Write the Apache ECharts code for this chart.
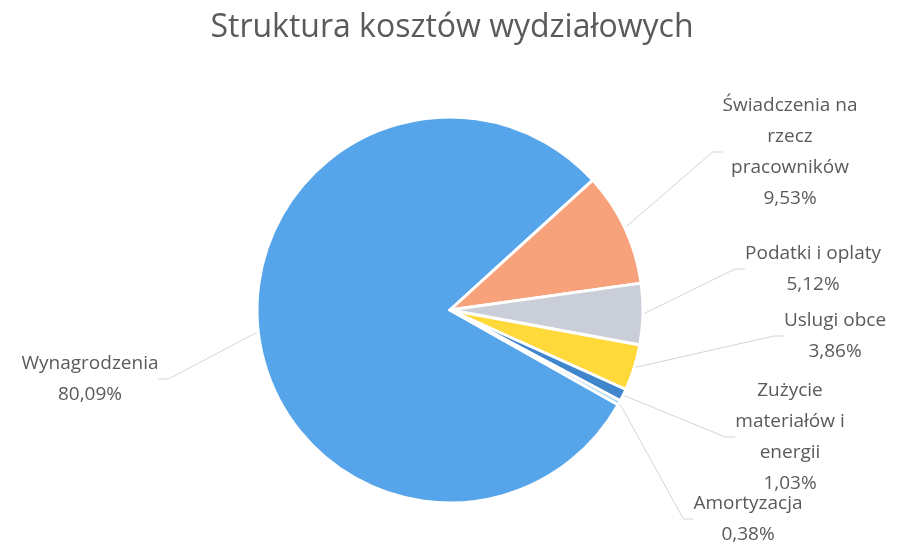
<!DOCTYPE html>
<html>
<head>
<meta charset="utf-8">
<script src="https://cdn.jsdelivr.net/npm/echarts@6/dist/echarts.min.js"></script>
<style>
  html, body { margin: 0; padding: 0; background: #fff; }
  #chart { width: 904px; height: 544px; }
</style>
</head>
<body>
<div id="chart"></div>
<script>
// Cost categories and their shares (%)
const categories = [
  'Wynagrodzenia',
  'Świadczenia na\nrzecz\npracowników',
  'Podatki i oplaty',
  'Uslugi obce',
  'Zużycie\nmateriałów i\nenergii',
  'Amortyzacja'
];
const shares = [80.09, 9.53, 5.12, 3.86, 1.03, 0.38];
const sliceColors = ['#56a5ea', '#f8a27c', '#c9ced8', '#ffd83a', '#3f86cc', '#a9d6f2'];

// Label centres (pixels) for each category
const labelSpots = [
  [90, 379], [790, 152], [813, 269], [835, 336], [790, 437], [748, 519]
];

const fmt = v => v.toFixed(2).replace('.', ',') + '%';

const chart = echarts.init(document.getElementById('chart'), null, { renderer: 'canvas' });
chart.setOption({
  animation: false,
  title: {
    text: 'Struktura kosztów wydziałowych',
    left: 'center',
    top: 7,
    textStyle: { fontFamily: 'Open Sans', fontWeight: 'normal', fontSize: 32, color: '#5a5a5a' }
  },
  series: [{
    type: 'pie',
    center: [450, 310],
    radius: 193,
    startAngle: 330.6,
    clockwise: true,
    data: categories.map((name, i) => ({
      name, value: shares[i], itemStyle: { color: sliceColors[i] }
    })),
    itemStyle: { borderColor: '#fff', borderWidth: 3 },
    label: {
      show: true,
      formatter: p => p.name + '\n' + fmt(p.value),
      fontFamily: 'Open Sans',
      fontSize: 19,
      lineHeight: 31,
      color: '#5a5a5a',
      align: 'center'
    },
    labelLine: {
      show: true,
      length: 20,
      length2: 10,
      lineStyle: { color: '#d4d4d4', width: 1 }
    },
    labelLayout: p => ({
      x: labelSpots[p.dataIndex][0],
      y: labelSpots[p.dataIndex][1],
      align: 'center',
      verticalAlign: 'middle'
    })
  }]
});
</script>
</body>
</html>
